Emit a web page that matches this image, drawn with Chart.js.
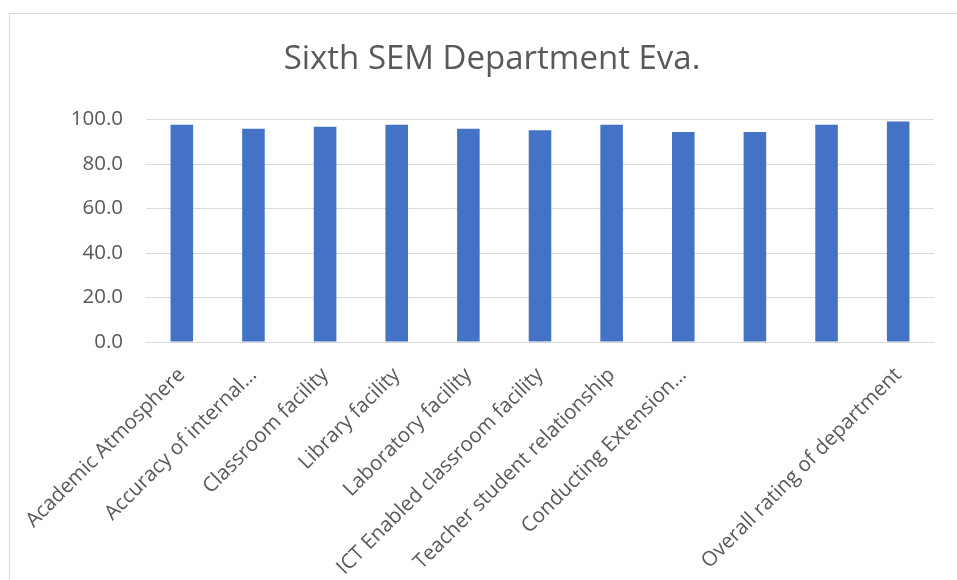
<!DOCTYPE html>
<html>
<head>
<meta charset="utf-8">
<script src="https://cdn.jsdelivr.net/npm/chart.js@4/dist/chart.umd.min.js"></script>
<style>
  html, body { margin: 0; padding: 0; background: #ffffff; overflow: hidden; }
  #wrap { position: absolute; left: 0; top: 0; width: 957px; height: 580px; }
</style>
</head>
<body>
<div id="wrap"><canvas id="c" width="957" height="580"></canvas></div>
<script>
const categories = [
  "Academic Atmosphere",
  "Accuracy of internal...",
  "Classroom facility",
  "Library facility",
  "Laboratory facility",
  "ICT Enabled classroom facility",
  "Teacher student relationship",
  "Conducting Extension...",
  "",
  "",
  "Overall rating of department"
];
const values = [97.7, 95.9, 96.8, 97.7, 95.9, 95.2, 97.7, 94.4, 94.4, 97.7, 99.2];
const yTicks = [0, 20, 40, 60, 80, 100];
const titleText = "Sixth SEM Department Eva.";

const FONT = "'Open Sans', 'Noto Sans', sans-serif";
const TEXT = "#595959";

const borderPlugin = {
  id: 'outerBorder',
  beforeDraw(chart) {
    const ctx = chart.ctx;
    ctx.save();
    ctx.fillStyle = '#ffffff';
    ctx.fillRect(0, 0, chart.width, chart.height);
    ctx.strokeStyle = '#d9d9d9';
    ctx.lineWidth = 1;
    ctx.strokeRect(9.5, 13.5, 1200, 1200);
    ctx.restore();
  }
};

new Chart(document.getElementById('c'), {
  type: 'bar',
  data: {
    labels: categories,
    datasets: [{
      data: values,
      backgroundColor: '#4472C4',
      borderWidth: 0,
      categoryPercentage: 1.0,
      barPercentage: 0.315
    }]
  },
  options: {
    responsive: false,
    animation: false,
    devicePixelRatio: 1,
    layout: { padding: { left: 50, right: 23, top: 36, bottom: 0 } },
    plugins: {
      legend: { display: false },
      tooltip: { enabled: false },
      title: {
        display: true,
        text: titleText,
        color: TEXT,
        font: { family: FONT, size: 33, weight: 'normal' },
        padding: { top: 4, bottom: 40 }
      }
    },
    scales: {
      x: {
        grid: { display: false, drawTicks: false },
        border: { display: false },
        ticks: {
          autoSkip: false,
          minRotation: 45,
          maxRotation: 45,
          color: TEXT,
          font: { family: FONT, size: 20.5 },
          padding: 21
        },
        afterFit(scale) { scale.height = 238; }
      },
      y: {
        min: 0,
        max: 100,
        afterBuildTicks(scale) { scale.ticks = yTicks.map(v => ({ value: v })); },
        grid: { color: '#d9d9d9', lineWidth: 1, drawTicks: false },
        border: { display: false },
        ticks: {
          color: TEXT,
          font: { family: FONT, size: 20.5 },
          padding: 23,
          callback: (v) => Number(v).toFixed(1)
        },
        afterFit(scale) { scale.width = 96; }
      }
    }
  },
  plugins: [borderPlugin]
});
</script>
</body>
</html>
